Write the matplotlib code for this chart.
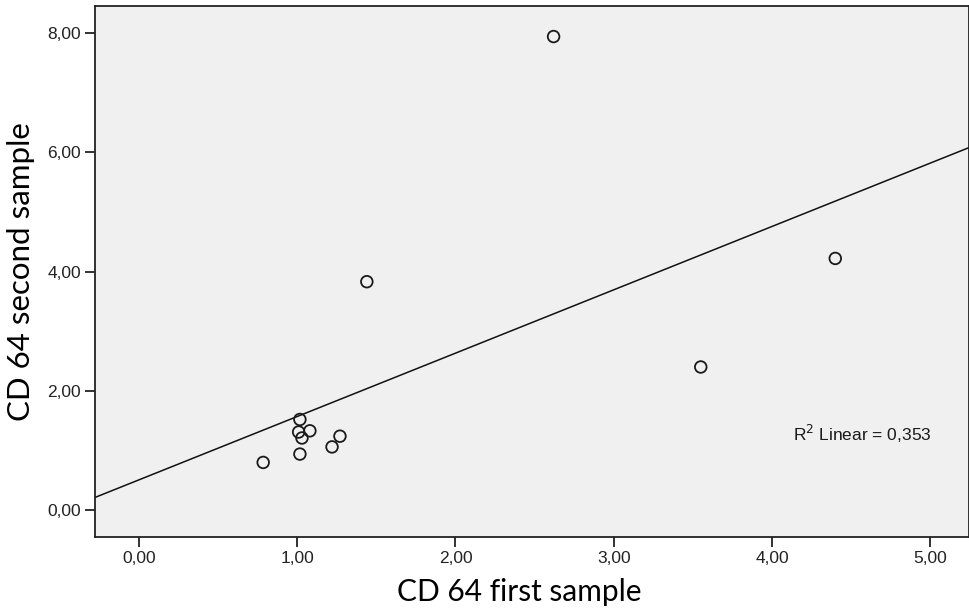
import matplotlib
matplotlib.use("Agg")
import matplotlib.pyplot as plt
import numpy as np

# CD 64 values
first_sample = [2.62, 4.40, 3.55, 1.44, 1.017, 1.009, 1.08, 1.03, 1.27, 1.22, 1.017, 0.785]
second_sample = [7.94, 4.22, 2.40, 3.83, 1.52, 1.31, 1.33, 1.21, 1.24, 1.06, 0.94, 0.80]
x_ticks = [0, 1, 2, 3, 4, 5]
y_ticks = [0, 2, 4, 6, 8]
r2_label = "R$^2$ Linear = 0,353"


def comma_fmt(v, _pos=None):
    return f"{v:.2f}".replace(".", ",")


fig = plt.figure(figsize=(9.69, 6.13), dpi=100)
ax = fig.add_axes([0.098, 0.124, 0.902, 0.866])
ax.set_facecolor("#f0f0f0")

x = np.asarray(first_sample)
y = np.asarray(second_sample)
ax.scatter(x, y, s=70, facecolors="none", edgecolors="#1a1a1a", linewidths=1.3, zorder=3)

xlim = (-0.278, 5.245)
slope, intercept = np.polyfit(x, y, 1)
xs = np.array(xlim)
ax.plot(xs, slope * xs + intercept, color="#111111", lw=1.1, zorder=2)

ax.set_xlim(*xlim)
ax.set_ylim(-0.45, 8.45)
ax.set_xticks(x_ticks)
ax.set_yticks(y_ticks)
ax.xaxis.set_major_formatter(plt.FuncFormatter(comma_fmt))
ax.yaxis.set_major_formatter(plt.FuncFormatter(comma_fmt))
ax.tick_params(length=7, width=1.3, color="#222222", labelsize=12.5, labelcolor="#222222", pad=3)
for lab in ax.get_xticklabels() + ax.get_yticklabels():
    lab.set_family("Liberation Sans")

for sp in ax.spines.values():
    sp.set_linewidth(1.3)
    sp.set_color("#222222")

ax.text(4.13, 1.28, r2_label, fontsize=12.5, family="Liberation Sans", color="#1a1a1a", va="center", ha="left")

ax.set_xlabel("CD 64 first sample", fontsize=21.5, family="Lato")
ax.set_ylabel("CD 64 second sample", fontsize=22.5, family="Lato")
ax.xaxis.set_label_coords(0.486, -0.078)
ax.yaxis.set_label_coords(-0.069, 0.5)

fig.savefig("out.png", dpi=100)
